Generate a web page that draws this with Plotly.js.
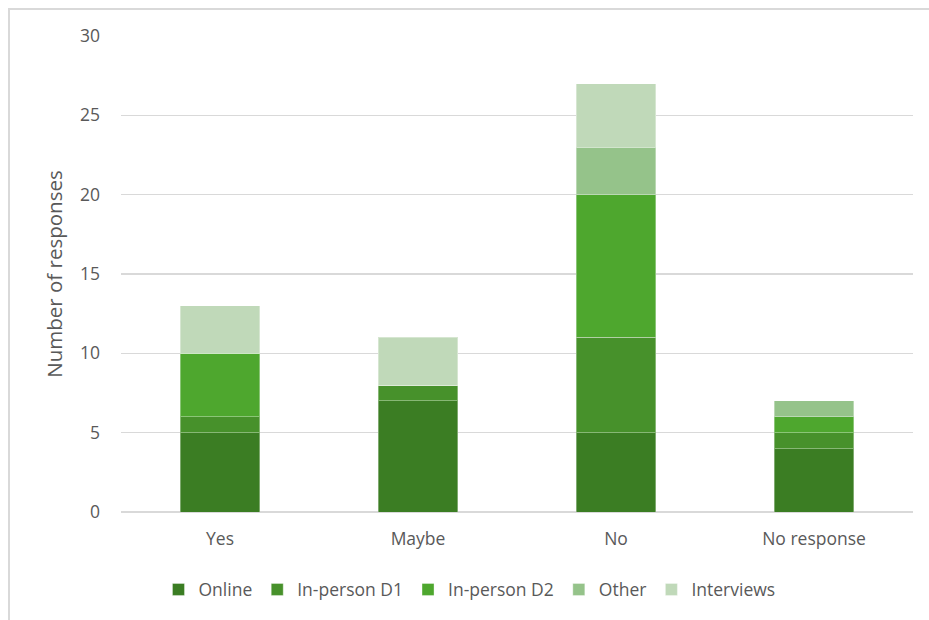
<!DOCTYPE html>
<html>
<head>
<meta charset="utf-8">
<script src="https://cdn.plot.ly/plotly-3.0.1.min.js"></script>
<style>
  html, body { margin: 0; padding: 0; background: #ffffff; overflow: hidden; }
  #frame { position: absolute; left: 8px; top: 8px; width: 940px; height: 640px;
           border: 2px solid #d9d9d9; box-sizing: border-box; }
  #chart { position: absolute; left: 0; top: 0; width: 929px; height: 620px; }
</style>
</head>
<body>
<div id="frame"></div>
<div id="chart"></div>
<script>
// Responses per answer, split by collection method
const categories = ["Yes", "Maybe", "No", "No response"];
const online      = [5, 7, 5, 4];
const inPersonD1  = [1, 1, 6, 1];
const inPersonD2  = [4, 0, 9, 1];
const other       = [0, 0, 3, 1];
const interviews  = [3, 3, 4, 0];

const seriesNames  = ["Online", "In-person D1", "In-person D2", "Other", "Interviews"];
const seriesValues = [online, inPersonD1, inPersonD2, other, interviews];
const seriesColors = ["#3b7d23", "#47912b", "#4ea72e", "#95c38a", "#c0d9b9"];

const textFont = { family: "'Open Sans', Lato, sans-serif", size: 17.5, color: "#595959" };
const titleFont = { family: "'Open Sans', Lato, sans-serif", size: 20.5, color: "#595959" };

const traces = seriesNames.map((name, i) => ({
  type: "bar",
  name: name,
  x: categories,
  y: seriesValues[i],
  marker: { color: seriesColors[i], line: { color: "rgba(255,255,255,0.35)", width: 1 } },
  hoverinfo: "x+y+name"
}));

const layout = {
  width: 929,
  height: 620,
  barmode: "stack",
  bargap: 0.6,
  paper_bgcolor: "rgba(0,0,0,0)",
  plot_bgcolor: "rgba(0,0,0,0)",
  margin: { l: 121, r: 16, t: 36, b: 106 },
  font: textFont,
  showlegend: true,
  legend: {
    orientation: "h",
    x: 0.44, xanchor: "center",
    y: -0.163, yanchor: "middle",
    font: textFont,
    itemwidth: 30,
    traceorder: "normal"
  },
  xaxis: {
    type: "category",
    showgrid: false,
    zeroline: false,
    showline: false,
    ticks: "",
    tickfont: textFont,
    ticklabelstandoff: 14
  },
  yaxis: {
    range: [0, 30],
    dtick: 5,
    showgrid: true,
    gridcolor: "#d9d9d9",
    gridwidth: 1.3,
    zeroline: true,
    zerolinecolor: "#d9d9d9",
    zerolinewidth: 1.3,
    showline: false,
    ticks: "",
    ticklabelstandoff: 20,
    tickfont: textFont,
    title: { text: "Number of responses", font: titleFont, standoff: 11 }
  }
};

Plotly.newPlot("chart", traces, layout, { displayModeBar: false, staticPlot: true });
</script>
</body>
</html>
